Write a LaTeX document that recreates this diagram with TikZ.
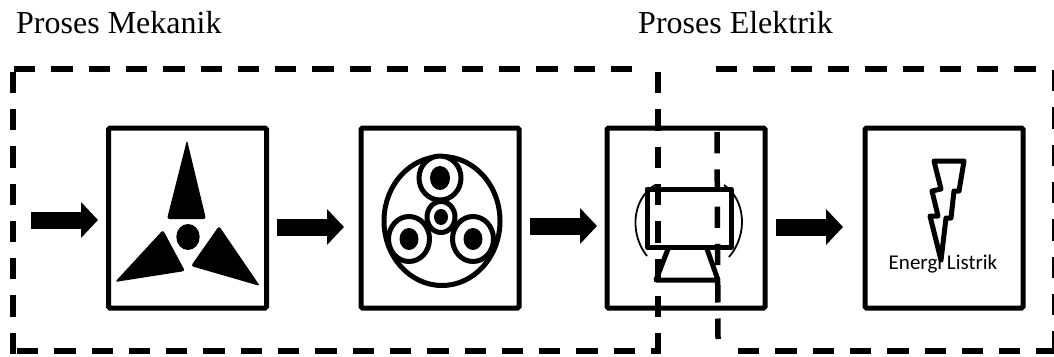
\documentclass[tikz,border=0pt]{standalone}
\usepackage{fontspec}
\setmainfont{Liberation Serif}
\newfontfamily\labelfont{Carlito}
\usetikzlibrary{positioning,arrows.meta}
\tikzstyle{procbox} = [rectangle, minimum width=158pt, minimum height=180pt, line width=5pt, rounded corners=1.5pt, draw=black]
\tikzstyle{bigarrow} = [line width=17pt,-{Triangle[length=17pt,width=35pt]}]
\tikzstyle{groupline} = [line width=5.5pt,dash pattern=on 21.3pt off 16pt]
\tikzstyle{title} = [anchor=base west,inner sep=0pt,font=\fontsize{32}{36}\selectfont]
\tikzstyle{iconline} = [line width=5pt,line join=round]
\tikzstyle{motorarc} = [line width=1.8pt]
\begin{document}
\begin{tikzpicture}[x=1pt,y=-1pt,on grid]
	\clip (0,0) rectangle (1054,356);
	\node[title](t_1) at (16,33){Proses Mekanik};
	\node[title](t_2) at (638,33){Proses Elektrik};
	\node[procbox](box_1) at (187.5,218){};
	\node[procbox,right=252.5pt of box_1](box_2){};
	\node[procbox,right=246pt of box_2](box_3){};
	\node[procbox,right=258pt of box_3](box_4){};
	\coordinate (wind) at (31,220);
	% arrows between the boxes
	\draw[bigarrow,shorten >=8pt] (wind) -- (wind -| box_1.west);
	\draw[bigarrow,shorten <=7.5pt,shorten >=14.5pt] ([yshift=-9pt]box_1.east) -- ([yshift=-9pt]box_2.west);
	\draw[bigarrow,shorten <=8.5pt,shorten >=7.5pt] ([yshift=-8pt]box_2.east) -- ([yshift=-8pt]box_3.west);
	\draw[bigarrow,shorten <=8.5pt,shorten >=19.5pt] ([yshift=-9pt]box_3.east) -- ([yshift=-9pt]box_4.west);
	% turbine
	\fill[rounded corners=2.5pt] (187,140) -- (206,219) -- (167,219) -- cycle;
	\fill[rounded corners=2.5pt] (115,282) -- (163,230) -- (185,271) -- cycle;
	\fill[rounded corners=2.5pt] (219,226) -- (260,286) -- (191,266) -- cycle;
	\fill (188,237) ellipse [x radius=11.7,y radius=13];
	% gearbox
	\draw[iconline] (442,221) ellipse [x radius=58,y radius=64.5];
	\foreach \gx/\gy/\ga/\gb/\gc/\gd in {440/178/21/22/10/12,409/239/20.5/22.5/9.5/11,473/239/20.5/22.5/9.5/11,441/217/14/15.5/7/8}{
		\draw[iconline,fill=white] (\gx,\gy) ellipse [x radius=\ga,y radius=\gb];
		\fill (\gx,\gy) ellipse [x radius=\gc,y radius=\gd];
	}
	% generator
	\draw[iconline] (647,189) rectangle (731,247);
	\draw[iconline] (668,249) -- (656,280) -- (718,280) -- (707,249);
	\draw[motorarc] (655,185) .. controls (631,200) and (630,235) .. (647,256);
	\draw[motorarc] (724,185) .. controls (746,200) and (748,235) .. (729,257);
	% lightning
	\draw[iconline] (934,161) -- (964,161) -- (959,191) -- (954,191) -- (951,218) -- (946,218) -- (941,260) -- (930,216) -- (938,216) -- (932,191) -- (941,189) -- cycle;
	\node[font=\labelfont\fontsize{21}{25}\selectfont,inner sep=0pt](lbl_1) at (943,264){Energi Listrik};
	% process groups
	\draw[groupline] (14,69) -- (632,69);
	\draw[groupline] (13,354) -- (13,72);
	\draw[groupline] (635,351) -- (17,351);
	\draw[groupline] (658,72) -- (658,354);
	\draw[groupline] (651,351) -- (660,351);
	\draw[groupline] (716,69) -- (1036,69);
	\draw[groupline] (717,132) -- (718,339);
	\draw[groupline] (1055,70) -- (1055,351);
	\draw[groupline] (738,351) -- (1054,351);
\end{tikzpicture}
\end{document}
